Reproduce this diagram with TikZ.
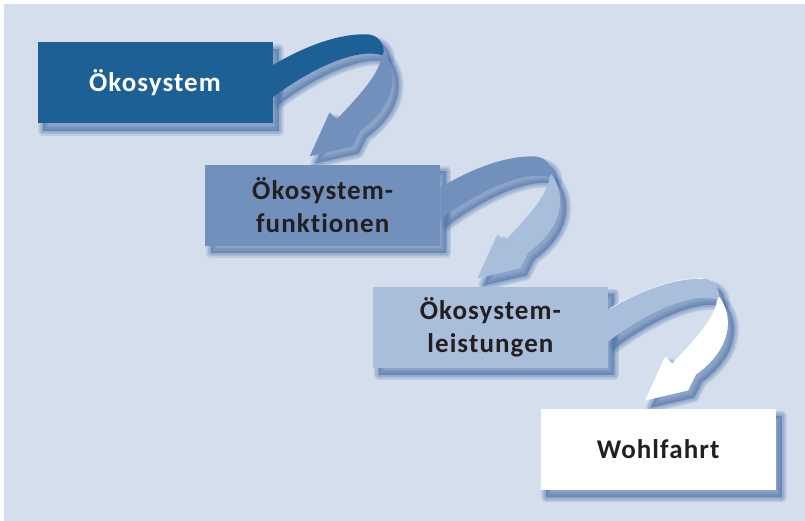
\documentclass[tikz,border=0pt]{standalone}
\usepackage{fontspec}
\setmainfont{Carlito}[RawFeature=-liga,LetterSpace=4]
\usetikzlibrary{positioning,calc}

\definecolor{bgblue}{HTML}{D4DEEC}
\definecolor{ecoblue}{HTML}{1C6095}
\definecolor{funcblue}{HTML}{7191BC}
\definecolor{servblue}{HTML}{A9BEDA}
\definecolor{shadowblue}{HTML}{4A6EA6}
\definecolor{textgray}{HTML}{231F20}

\pgfdeclarelayer{back}
\pgfdeclarelayer{shade}
\pgfsetlayers{back,shade,main}

\tikzset{
  shadelayer/.style={fill=shadowblue,draw=shadowblue,line join=round,
      fill opacity=.17,draw opacity=.17,line width=#1},
  stage/.style={rectangle,minimum width=235pt,minimum height=81pt,
      inner sep=0pt,align=center,text=textgray,
      font=\bfseries\fontsize{27}{33}\selectfont},
}

% soft blue shadow under a closed path, #1 shift, #2 path
\newcommand{\softshadow}[2]{%
  \begin{pgfonlayer}{shade}
    \foreach \w in {1,4,7,10}
      \path[shadelayer=\w pt,shift={#1}] #2;
  \end{pgfonlayer}}

% ribbon arrow leaving the right side of a stage
% #1 stage, #2 front colour, #3 back colour, #4 highlight
\newcommand{\ribbon}[4]{%
  \begin{scope}[shift={(#1.north east)}]
    \def\frontpart{(0,23) .. controls (30,5) and (65,-9) .. (95,-8)
      .. controls (105,-7) and (111,0) .. (111,10) -- (110,13)
      .. controls (85,5) and (40,25) .. (0,55) -- cycle}
    \def\backpart{(111,10) .. controls (126,30) and (124,62) .. (88,88)
      -- (80,104) -- (37,114) -- (57,70) -- (64,77)
      .. controls (88,52) and (106,32) .. (109,14) -- cycle}
    \softshadow{(6,7)}{\frontpart}
    \softshadow{(6,7)}{\backpart}
    \path[fill=#2] \frontpart;
    \draw[#4,line width=.6pt] (2,22) .. controls (30,5) and (65,-9) .. (95,-8);
    \path[fill=#3] \backpart;
  \end{scope}}

\begin{document}
\begin{tikzpicture}[x=1pt,y=-1pt]
  \begin{pgfonlayer}{back}
    \fill[white] (0,0) rectangle (805,521);
    \fill[bgblue] (4,4) rectangle (805,521);
  \end{pgfonlayer}

  \node[stage,fill=ecoblue,text=white] (eco) at (155,83) {Ökosystem};
  \node[stage,fill=funcblue] (func) [below right=40.7pt and -67.7pt of eco]
      {Ökosystem-\\funktionen};
  \node[stage,fill=servblue] (serv) [below right=40.7pt and -67.7pt of func]
      {Ökosystem-\\leistungen};
  \node[stage,fill=white] (wohl) [below right=40.7pt and -67.7pt of serv]
      {Wohlfahrt};

  \foreach \n in {eco,func,serv,wohl}
    \softshadow{(0,0)}{($(\n.north west)+(6,7)$) rectangle ($(\n.south east)+(6,7)$)};

  \ribbon{eco}{ecoblue}{funcblue}{draw=none}
  \ribbon{func}{funcblue}{servblue}{draw=none}
  \ribbon{serv}{servblue}{white}{white!85!servblue}
\end{tikzpicture}
\end{document}
